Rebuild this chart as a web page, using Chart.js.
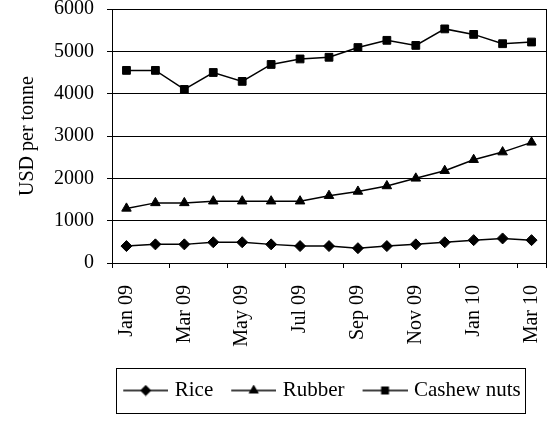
<!DOCTYPE html>
<html>
<head>
<meta charset="utf-8">
<script src="https://cdn.jsdelivr.net/npm/chart.js@4/dist/chart.umd.min.js"></script>
<style>
  html, body { margin: 0; padding: 0; background: #fff; }
  #wrap { width: 555px; height: 424px; }
</style>
</head>
<body>
<div id="wrap"><canvas id="c" width="555" height="424"></canvas></div>
<script>
// monthly prices, Jan 09 .. Mar 10
const months = ['Jan 09','Feb 09','Mar 09','Apr 09','May 09','Jun 09','Jul 09','Aug 09',
                'Sep 09','Oct 09','Nov 09','Dec 09','Jan 10','Feb 10','Mar 10'];
const rice    = [400, 440, 440, 490, 490, 440, 400, 400, 350, 400, 440, 490, 540, 580, 540];
const rubber  = [1290, 1420, 1420, 1460, 1460, 1460, 1460, 1590, 1690, 1820, 2000, 2180, 2440, 2620, 2850];
const cashew  = [4550, 4550, 4100, 4500, 4290, 4690, 4820, 4860, 5090, 5260, 5140, 5530, 5400, 5180, 5220];
const yTicks  = [0, 1000, 2000, 3000, 4000, 5000, 6000];

const FONT = "'Times New Roman', 'Liberation Serif', serif";

// little line+marker icons for the legend (4px transparent lead-in on the left)
function legendIcon(style) {
  const cv = document.createElement('canvas');
  cv.width = 49; cv.height = 12;
  const g = cv.getContext('2d');
  g.strokeStyle = '#000'; g.fillStyle = '#000'; g.lineWidth = 1.5;
  g.beginPath(); g.moveTo(4, 6); g.lineTo(49, 6); g.stroke();
  Chart.helpers.drawPoint(g, {pointStyle: style, radius: 4.5, borderWidth: 1}, 26.5, 6);
  return cv;
}
const icons = [legendIcon('rectRot'), legendIcon('triangle'), legendIcon('rect')];

const frame = {
  id: 'frame',
  afterLayout(chart) {
    // legend sits a bit left of the plot centre in the original
    chart.legend.left -= 7;
    chart.legend.right -= 7;
  },
  afterDraw(chart) {
    const ctx = chart.ctx;
    const a = chart.chartArea;
    ctx.save();
    ctx.strokeStyle = '#000';
    ctx.lineWidth = 1;
    ctx.strokeRect(Math.round(a.left) + 0.5, Math.round(a.top) + 0.5,
                   Math.round(a.right - a.left), Math.round(a.bottom - a.top));
    const hb = chart.legend.legendHitBoxes;
    if (hb && hb.length) {
      const l = Math.min(...hb.map(h => h.left)) - 7;
      const r = Math.max(...hb.map(h => h.left + h.width)) + 4;
      const t = hb[0].top - 12;
      const b = hb[0].top + hb[0].height + 12;
      ctx.strokeRect(Math.round(l) + 0.5, Math.round(t) + 0.5, Math.round(r - l), Math.round(b - t));
    }
    ctx.restore();
  }
};

function ds(label, data, style, r) {
  return {
    label: label,
    data: data,
    borderColor: '#000',
    backgroundColor: '#000',
    borderWidth: 1.5,
    pointStyle: style,
    pointRadius: r,
    pointHoverRadius: r,
    pointBackgroundColor: '#000',
    pointBorderColor: '#000',
    pointBorderWidth: 1,
    tension: 0
  };
}

new Chart(document.getElementById('c'), {
  type: 'line',
  data: {
    labels: months,
    datasets: [
      ds('Rice', rice, 'rectRot', 5.5),
      ds('Rubber', rubber, 'triangle', 5.5),
      ds('Cashew nuts', cashew, 'rect', 5.5)
    ]
  },
  options: {
    responsive: false,
    animation: false,
    layout: { padding: { left: 0, right: 9, top: 9, bottom: 13 } },
    scales: {
      x: {
        type: 'category',
        offset: true,
        afterFit(s) { s.height = 99; s.paddingLeft = 0; s.paddingRight = 0; },
        grid: {
          offset: true,
          drawOnChartArea: false,
          drawTicks: true,
          tickLength: 5,
          tickColor: c => (c.index % 2 ? 'rgba(0,0,0,0)' : '#000')
        },
        border: { color: '#000', width: 1 },
        ticks: {
          autoSkip: false,
          minRotation: 90,
          maxRotation: 90,
          padding: 17,
          color: '#000',
          font: { family: FONT, size: 20 },
          callback(v, i) { return i % 2 ? '' : months[i]; }
        }
      },
      y: {
        min: yTicks[0],
        max: yTicks[yTicks.length - 1],
        afterFit(s) { s.width = 112; s.paddingTop = 0; s.paddingBottom = 0; },
        afterBuildTicks(s) { s.ticks = yTicks.map(v => ({ value: v })); },
        grid: { color: '#000', lineWidth: 1, tickLength: 5 },
        border: { color: '#000', width: 1 },
        ticks: {
          padding: 13,
          color: '#000',
          font: { family: FONT, size: 20 },
          callback: v => String(v)
        },
        title: {
          display: true,
          text: 'USD per tonne',
          color: '#000',
          padding: { top: 16, bottom: 0 },
          font: { family: FONT, size: 20 }
        }
      }
    },
    plugins: {
      tooltip: { enabled: false },
      legend: {
        position: 'bottom',
        fullSize: false,
        labels: {
          usePointStyle: true,
          pointStyleWidth: 41,
          padding: 18,
          color: '#000',
          font: { family: FONT, size: 21 },
          generateLabels(chart) {
            const items = Chart.defaults.plugins.legend.labels.generateLabels(chart);
            items.forEach((it, i) => { it.pointStyle = icons[i]; });
            return items;
          }
        }
      }
    }
  },
  plugins: [frame]
});
</script>
</body>
</html>
